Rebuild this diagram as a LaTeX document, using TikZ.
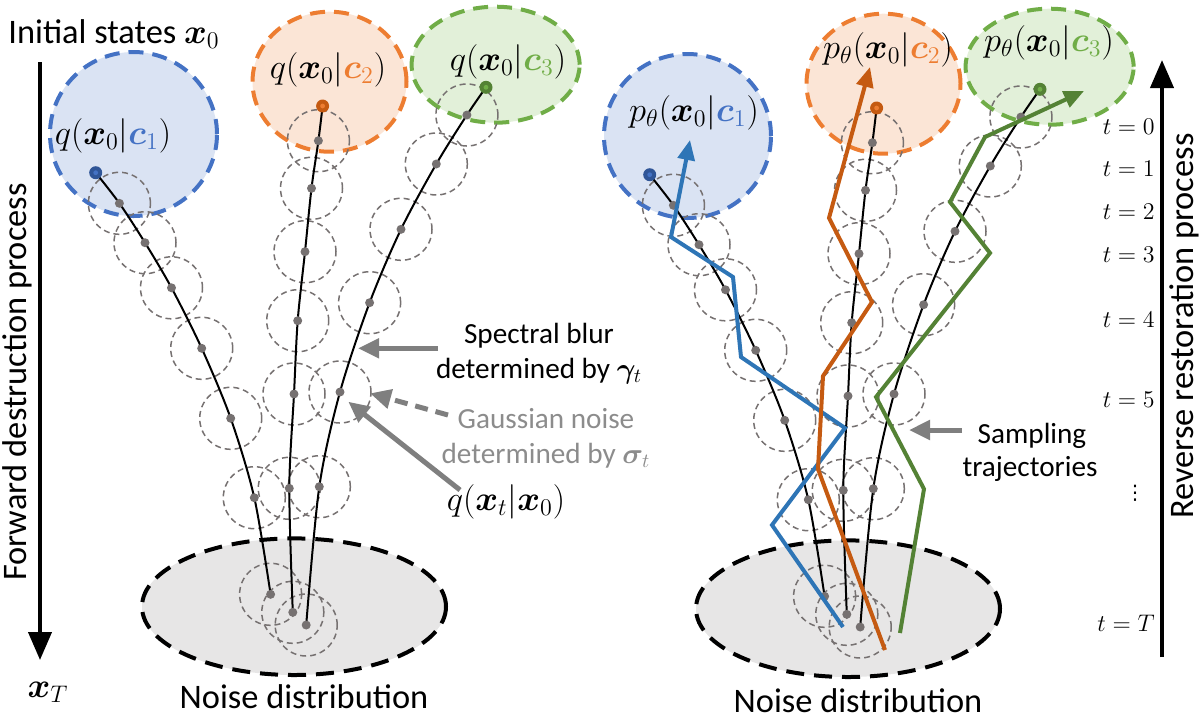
\documentclass[tikz,border=0pt]{standalone}
\usepackage[no-math]{fontspec}
\setmainfont{Carlito}
\newfontfamily\dejavu{DejaVu Sans}
\usepackage{amsmath,bm}
\usetikzlibrary{arrows.meta}
\definecolor{bfill}{HTML}{DAE3F3}\definecolor{bline}{HTML}{4472C4}\definecolor{bdark}{HTML}{2F5597}\definecolor{btraj}{HTML}{2E75B6}
\definecolor{ofill}{HTML}{FBE5D6}\definecolor{oline}{HTML}{ED7D31}\definecolor{odark}{HTML}{C55A11}\definecolor{otraj}{HTML}{C55A11}
\definecolor{gfill}{HTML}{E2F0D9}\definecolor{gline}{HTML}{70AD47}\definecolor{gdark}{HTML}{548235}\definecolor{gtraj}{HTML}{548235}
\definecolor{nfill}{HTML}{E7E6E6}\definecolor{dotgray}{HTML}{767171}\definecolor{agray}{HTML}{7F7F7F}\definecolor{tgray}{HTML}{8C8C8C}
\tikzset{
  every node/.style={font=\fontsize{17.2}{20}\selectfont, inner sep=0pt},
  small/.style={font=\fontsize{14.6}{17}\selectfont},
  distr/.style={line width=2pt, dash pattern=on 7.5pt off 4.5pt},
  ncirc/.style={draw=dotgray, line width=0.75pt, dash pattern=on 3pt off 2pt},
  gdot/.style={fill=dotgray},
  trajline/.style={line width=1pt, draw=black},
  samp/.style={line width=2pt, -{Triangle[length=10pt,width=8.5pt]}},
  annot/.style={draw=agray, line width=2.5pt, -{Triangle[length=10.5pt,width=9.5pt]}},
  bigarrow/.style={line width=2pt, -{Triangle[length=14pt,width=11.5pt]}},
  tlab/.style={anchor=east, font=\fontsize{12.5}{14}\selectfont},
}
\newcommand{\startdot}[3]{\fill[#2] (#1) circle[radius=3.25pt]; \fill[#3] (#1) circle[radius=1.2pt];}
\newcommand{\panel}[1]{%
  \coordinate (#1B0) at (95.7,172.7);  \coordinate (#1B1) at (119.4,203.3); \coordinate (#1B2) at (145,242.7);
  \coordinate (#1B3) at (171.5,287.8); \coordinate (#1B4) at (201.7,348.3); \coordinate (#1B5) at (230.7,418.3);
  \coordinate (#1B6) at (254.3,497.7); \coordinate (#1B7) at (270.6,594.3);
  \coordinate (#1O0) at (322.6,106);   \coordinate (#1O1) at (318.4,140.7); \coordinate (#1O2) at (311.5,188.3);
  \coordinate (#1O3) at (305,251.7);   \coordinate (#1O4) at (297.7,320.7); \coordinate (#1O5) at (294,394);
  \coordinate (#1O6) at (289.3,488.3); \coordinate (#1O7) at (292.8,612.3);
  \coordinate (#1G0) at (486,87.3);    \coordinate (#1G1) at (466.9,115);   \coordinate (#1G2) at (436.3,164);
  \coordinate (#1G3) at (401,229.3);   \coordinate (#1G4) at (369.6,302.7); \coordinate (#1G5) at (340,392);
  \coordinate (#1G6) at (319.3,486.7); \coordinate (#1G7) at (306.2,625);
  \coordinate (#1eb) at (133.5,134); \coordinate (#1eo) at (329.5,81.7);
  \coordinate (#1eg) at (495.6,64.7); \coordinate (#1en) at (294,606.7);
  \path[fill=bfill] (#1eb) ellipse[x radius=41.75pt, y radius=41pt];
  \draw[distr, draw=bline] (#1eb) ellipse[x radius=41.75pt, y radius=41pt];
  \path[fill=ofill] (#1eo) ellipse[x radius=38.5pt, y radius=35pt];
  \draw[distr, draw=oline] (#1eo) ellipse[x radius=38.5pt, y radius=35pt];
  \path[fill=gfill] (#1eg) ellipse[x radius=42pt, y radius=29pt];
  \draw[distr, draw=gline] (#1eg) ellipse[x radius=42pt, y radius=29pt];
  \path[fill=nfill] (#1en) ellipse[x radius=76pt, y radius=34.15pt];
  \draw[distr, draw=black, dash pattern=on 9pt off 5pt] (#1en) ellipse[x radius=76pt, y radius=34.15pt];
  \foreach \p in {B,O,G}{\foreach \i in {1,...,7}{\draw[ncirc] (#1\p\i) circle[radius=15.5pt];}}
  \draw[trajline] plot[smooth] coordinates {(#1B0) (#1B1) (#1B2) (#1B3) (#1B4) (#1B5) (#1B6) (#1B7)};
  \draw[trajline] plot[smooth] coordinates {(#1O0) (#1O1) (#1O2) (#1O3) (#1O4) (#1O5) (#1O6) (#1O7)};
  \draw[trajline] plot[smooth] coordinates {(#1G0) (#1G1) (#1G2) (#1G3) (#1G4) (#1G5) (#1G6) (#1G7)};
  \foreach \p in {B,O,G}{\foreach \i in {1,...,7}{\fill[gdot] (#1\p\i) circle[radius=2.25pt];}}
  \startdot{#1B0}{bdark}{bline}
  \startdot{#1O0}{odark}{oline}
  \startdot{#1G0}{gdark}{gline}
}
\begin{document}
\begin{tikzpicture}[x=0.5pt,y=-0.5pt]
\useasboundingbox (0,0) rectangle (1200,720);
% ---------- left panel ----------
\panel{L}
\node (lc1) at (113,136) {$q(\bm{x}_0|\textcolor{bline}{\bm{c}_1})$};
\node (lc2) at (328,70) {$q(\bm{x}_0|\textcolor{oline}{\bm{c}_2})$};
\node (lc3) at (508,62) {$q(\bm{x}_0|\textcolor{gline}{\bm{c}_3})$};
\node[anchor=base west] (init) at (8,43) {Initial states $\bm{x}_0$};
\coordinate (fa1) at (40,62); \coordinate (fa2) at (40,660);
\draw[bigarrow] (fa1) -- (fa2);
\node[rotate=90] (fwd) at (17,382) {Forward destruction process};
\node (xT) at (48,692) {$\bm{x}_T$};
\node[anchor=base] (lnoise) at (304,708) {Noise distribution};
% annotations
\node[small, anchor=base] (sb1) at (539,343) {Spectral blur};
\node[small, anchor=base] (sb2) at (539,378) {determined by $\bm{\gamma}_t$};
\node[small, anchor=base, text=tgray] (gn1) at (546,428) {Gaussian noise};
\node[small, anchor=base, text=tgray] (gn2) at (546,463) {determined by $\bm{\sigma}_t$};
\node[anchor=base] (qxt) at (506,510) {$q(\bm{x}_t|\bm{x}_0)$};
\coordinate (sbT) at (438,348.3); \coordinate (sbH) at (358,348.3);
\coordinate (gnT) at (448,415);   \coordinate (gnH) at (370,393.3);
\coordinate (qT) at (460,490);    \coordinate (qH) at (348.3,401.7);
\draw[annot] (sbT) -- (sbH);
\draw[annot, dash pattern=on 6.5pt off 4pt] (gnT) -- (gnH);
\draw[annot] (qT) -- (qH);
% ---------- right panel ----------
\begin{scope}[shift={(554,2)}]
\panel{R}
\end{scope}
\node (rc1) at (694,113) {$p_\theta(\bm{x}_0|\textcolor{bline}{\bm{c}_1})$};
\node (rc2) at (888,50) {$p_\theta(\bm{x}_0|\textcolor{oline}{\bm{c}_2})$};
\node (rc3) at (1049,43) {$p_\theta(\bm{x}_0|\textcolor{gline}{\bm{c}_3})$};
\node[anchor=base] (rnoise) at (858,712) {Noise distribution};
% sampling trajectories
\coordinate (sb0) at (843,627); \coordinate (sb1p) at (772,525); \coordinate (sb2p) at (845,428);
\coordinate (sb3) at (741,357); \coordinate (sb4) at (733,277); \coordinate (sb5) at (671,237); \coordinate (sb6) at (690,140);
\draw[samp, btraj] (sb0) -- (sb1p) -- (sb2p) -- (sb3) -- (sb4) -- (sb5) -- (sb6);
\coordinate (so0) at (885,650); \coordinate (so1) at (818,469); \coordinate (so2) at (823,376);
\coordinate (so3) at (872,302); \coordinate (so4) at (829,218); \coordinate (so5) at (870,67);
\draw[samp, otraj] (so0) -- (so1) -- (so2) -- (so3) -- (so4) -- (so5);
\coordinate (sg0) at (900,633); \coordinate (sg1) at (924,489); \coordinate (sg2) at (876,397);
\coordinate (sg3) at (990,253); \coordinate (sg4) at (950,202); \coordinate (sg5) at (985,137); \coordinate (sg6) at (1084,91);
\draw[samp, gtraj] (sg0) -- (sg1) -- (sg2) -- (sg3) -- (sg4) -- (sg5) -- (sg6);
\node[small, anchor=base] (st1) at (1032,443) {Sampling};
\node[small, anchor=base] (st2) at (1030,476) {trajectories};
\coordinate (stT) at (962,430); \coordinate (stH) at (909,430);
\draw[annot] (stT) -- (stH);
% time axis
\coordinate (ra1) at (1162,657); \coordinate (ra2) at (1162,60);
\draw[bigarrow] (ra1) -- (ra2);
\node[rotate=90] (rev) at (1184,326) {Reverse restoration process};
\node[tlab] (t0) at (1155,127) {$t=0$};
\node[tlab] (t1) at (1155,169) {$t=1$};
\node[tlab] (t2) at (1155,212) {$t=2$};
\node[tlab] (t3) at (1155,255) {$t=3$};
\node[tlab] (t4) at (1155,320) {$t=4$};
\node[tlab] (t5) at (1155,400) {$t=5$};
\node[font=\dejavu\fontsize{10}{12}\selectfont] (tv) at (1135,493) {⋮};
\node[tlab] (tT) at (1155,623) {$t=T$};
\end{tikzpicture}
\end{document}
